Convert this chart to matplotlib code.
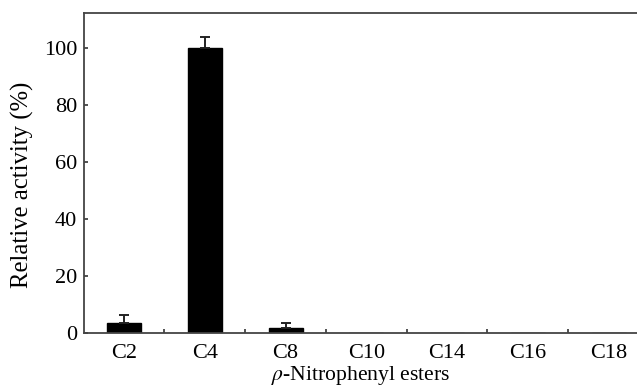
import matplotlib
matplotlib.use("Agg")
import matplotlib.pyplot as plt
import numpy as np

# data
esters = ["C2", "C4", "C8", "C10", "C14", "C16", "C18"]
activity = [3.4, 100.0, 1.8, 0.0, 0.0, 0.0, 0.0]
errors = [2.8, 3.9, 1.6, 0.0, 0.0, 0.0, 0.0]
y_ticks = [0, 20, 40, 60, 80, 100]

plt.rcParams["font.family"] = ["Liberation Serif", "DejaVu Serif"]
plt.rcParams["mathtext.fontset"] = "stix"

fig = plt.figure(figsize=(6.37, 3.91), dpi=100)
# axes runs past the right edge of the figure, as in the original
ax = fig.add_axes([0.1319, 0.1483, 0.887, 0.8184])

x = np.arange(len(esters))
has_err = [e > 0 for e in errors]
ax.bar(x, activity, width=0.42, color="black", edgecolor="black")
ax.errorbar(x[has_err], np.array(activity)[has_err],
            yerr=[np.zeros(sum(has_err)), np.array(errors)[has_err]],
            fmt="none", ecolor="#222222", elinewidth=1.4, capsize=3.8, capthick=1.4)

ax.set_xlim(-0.495, 6.5)
ax.set_ylim(0, 112.4)
ax.set_yticks(y_ticks)
ax.set_xticks(x)
ax.set_xticklabels(esters)
ax.set_xticks(x[:-1] + 0.5, minor=True)

ax.spines["right"].set_visible(False)
for side in ["left", "bottom", "top"]:
    ax.spines[side].set_color("#444444")
    ax.spines[side].set_linewidth(1.3)

ax.tick_params(axis="x", which="major", length=0, pad=8, labelsize=16)
ax.tick_params(axis="x", which="minor", direction="in", length=3, width=1.2, color="#333333")
ax.tick_params(axis="y", direction="in", length=3, width=1.2, color="#333333", pad=5, labelsize=16)

ax.set_ylabel("Relative activity (%)", fontsize=17.8)
ax.yaxis.set_label_coords(-0.088, 0.4625)
ax.set_xlabel(r"$\rho$-Nitrophenyl esters", fontsize=15.6)
ax.xaxis.set_label_coords(0.49, -0.098)

fig.savefig("out.png", dpi=100)
